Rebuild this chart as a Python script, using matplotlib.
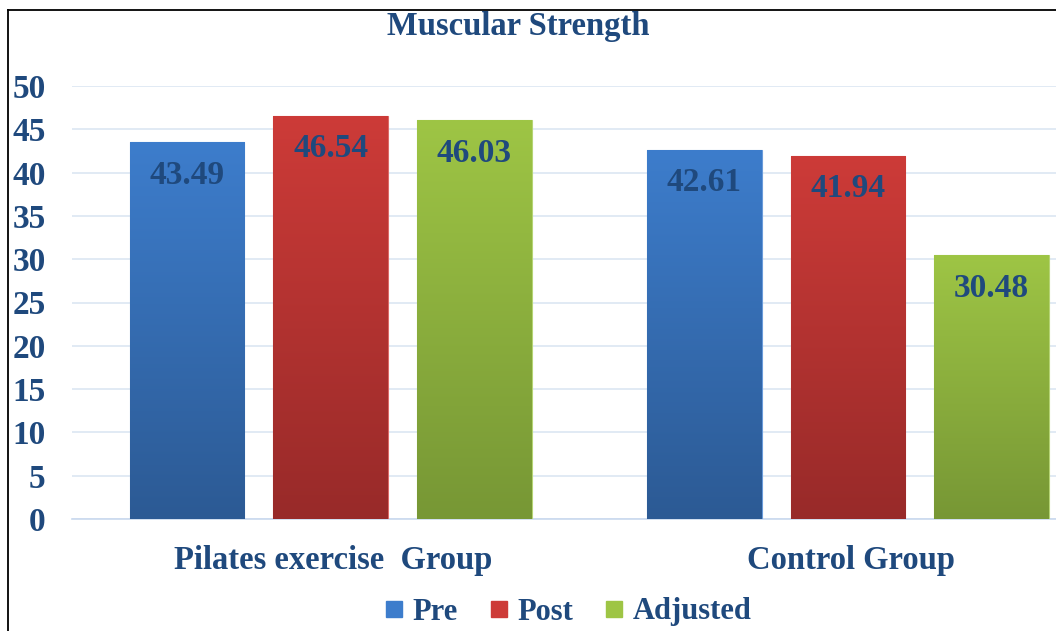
import matplotlib
matplotlib.use("Agg")
import matplotlib.pyplot as plt
import numpy as np
from matplotlib.lines import Line2D
from matplotlib.colors import LinearSegmentedColormap

groups = ["Pilates exercise  Group", "Control Group"]
series = ["Pre", "Post", "Adjusted"]
pre = [43.49, 42.61]
post = [46.54, 41.94]
adjusted = [46.03, 30.48]
yticks = [0, 5, 10, 15, 20, 25, 30, 35, 40, 45, 50]
title = "Muscular Strength"

values = [pre, post, adjusted]
top_colors = ["#3D7DCC", "#CD3B38", "#9EC545"]
bot_colors = ["#2C5A94", "#982A29", "#779735"]
edge_colors = ["#6A9BDA", "#DB6A67", "#B5D474"]
navy = "#1F497D"

plt.rcParams['font.family'] = ['Liberation Serif', 'DejaVu Serif']
plt.rcParams['font.weight'] = 'bold'

fig = plt.figure(figsize=(10.56, 6.31), dpi=100)
ax = fig.add_axes([72/1056, 1-519/631, 1-72/1056, (519-86)/631])

x = np.arange(len(groups))
offsets = [-0.2776, 0.0, 0.2776]
width = 0.222

for i, (vals, tc, bc, ec) in enumerate(zip(values, top_colors, bot_colors, edge_colors)):
    cmap = LinearSegmentedColormap.from_list(f"g{i}", [bc, tc])
    bars = ax.bar(x + offsets[i], vals, width, color=tc, edgecolor=ec, linewidth=0.8, zorder=3)
    for b, v in zip(bars, vals):
        bx, by = b.get_x(), b.get_y()
        bw, bh = b.get_width(), b.get_height()
        grad = np.linspace(0, 1, 256).reshape(-1, 1)
        im = ax.imshow(grad, cmap=cmap, origin='lower', aspect='auto',
                       extent=[bx, bx + bw, by, by + bh], zorder=3.5)
        im.set_clip_path(b)
        ax.annotate(f"{v:.2f}", (bx + bw/2, v), xytext=(0, -33), textcoords='offset pixels',
                    ha='center', va='center', fontsize=24, fontweight='bold', color=navy, zorder=5)

ax.set_xlim(-0.5, 1.402)
ax.set_ylim(0, 50)
ax.set_yticks(yticks)
ax.set_yticklabels([str(t) for t in yticks], fontsize=24, fontweight='bold', color=navy)
ax.set_xticks(x + 0.005)
ax.set_xticklabels(groups, fontsize=23.5, fontweight='bold', color=navy)
ax.tick_params(axis='y', length=0, pad=19)
ax.tick_params(axis='x', length=0, pad=19)
ax.yaxis.grid(True, color="#DCE6F2", linewidth=1.2, zorder=0)
ax.set_axisbelow(True)
for s in ['top', 'right', 'left']:
    ax.spines[s].set_visible(False)
ax.spines['bottom'].set_color("#C9D9EE")
ax.spines['bottom'].set_linewidth(1.2)

fig.text(518/1056, 1-27/631, title, ha='center', va='center', fontsize=23.5,
         fontweight='bold', color=navy)

handles = [Line2D([0], [0], marker='s', linestyle='none', markersize=11,
                  markerfacecolor=c, markeredgecolor=c) for c in top_colors]
fig.legend(handles, series, loc='center', bbox_to_anchor=(568/1056, 1-612/631),
           ncol=3, frameon=False, handlelength=0.6, handletextpad=0.3,
           columnspacing=1.05, labelcolor=navy, prop={'weight': 'bold', 'size': 22},
           borderpad=0.1)

fig.add_artist(Line2D([8/1056, 8/1056], [0, 1-9.5/631], transform=fig.transFigure,
                      color='black', linewidth=1.3))
fig.add_artist(Line2D([8/1056, 1], [1-9.5/631, 1-9.5/631], transform=fig.transFigure,
                      color='black', linewidth=1.3))

fig.savefig("out.png", dpi=100)
